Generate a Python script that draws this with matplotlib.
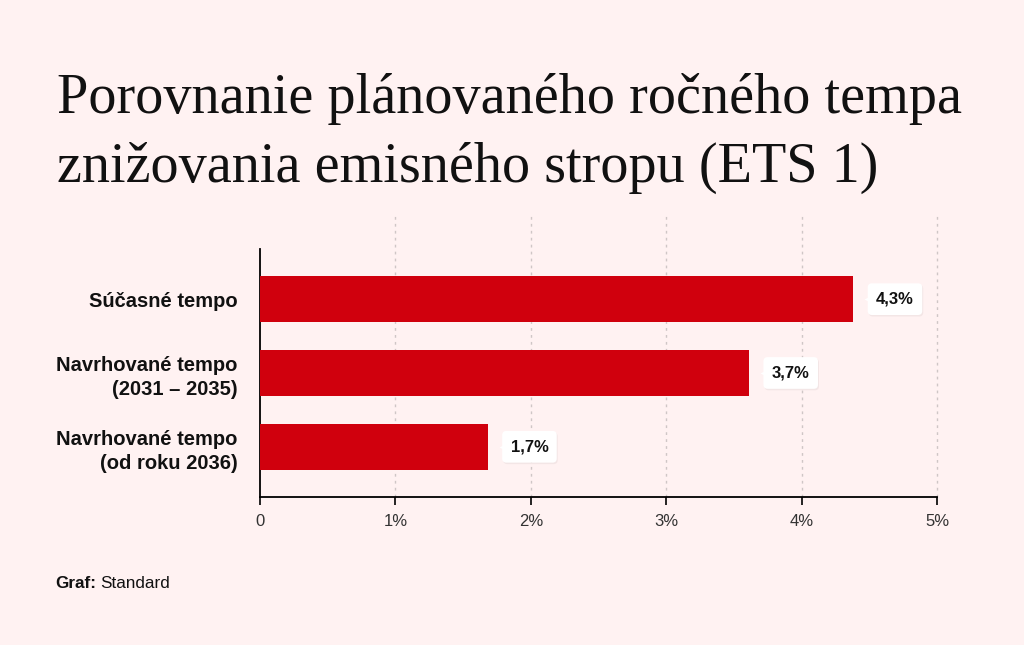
import matplotlib.pyplot as plt
from matplotlib import transforms

# data
categories = ["Súčasné tempo", "Navrhované tempo\n(2031 – 2035)", "Navrhované tempo\n(od roku 2036)"]
values = [4.38, 3.61, 1.68]
value_labels = ["4,3%", "3,7%", "1,7%"]
ticks = [0, 1, 2, 3, 4, 5]
tick_labels = ["0", "1%", "2%", "3%", "4%", "5%"]
title_lines = ["Porovnanie plánovaného ročného tempa", "znižovania emisného stropu (ETS 1)"]

BG = "#fff2f2"
RED = "#d0000d"
SANS = "Liberation Sans"

fig = plt.figure(figsize=(10.24, 6.45), dpi=100, facecolor=BG)
ax = fig.add_axes([0.254, 0.2295, 0.661, 0.3845])
ax.set_facecolor(BG)

pos = list(range(len(categories)))
ax.barh(pos, values, height=0.63, color=RED, zorder=3)
ax.set_ylim(len(categories) - 0.32, -0.68)
ax.set_xlim(0, 5)

# dotted gridlines, extended above the plot area
for t in ticks[1:]:
    ax.plot([t, t], [0, 1.145], transform=ax.get_xaxis_transform(), clip_on=False,
            color="#cfc6c6", lw=1, ls=(0, (2, 3)), zorder=1)

for s in ["top", "right"]:
    ax.spines[s].set_visible(False)
ax.spines["left"].set_linewidth(1.3)
ax.spines["bottom"].set_linewidth(1.3)
ax.set_xticks(ticks)
ax.set_xticklabels(tick_labels, fontsize=12, color="#333333", fontfamily=SANS)
ax.tick_params(axis="x", length=6, width=1.2, pad=6)
ax.set_yticks(pos)
ax.set_yticklabels(categories, fontsize=14.5, fontweight="bold", fontfamily=SANS,
                   linespacing=1.35, color="#111111")
ax.tick_params(axis="y", length=0, pad=16)
for lbl in ax.get_yticklabels():
    lbl.set_horizontalalignment("right")
    lbl.set_multialignment("right")

# value labels in white callouts
for p, v, txt in zip(pos, values, value_labels):
    base = transforms.offset_copy(ax.transData, fig=fig, x=23, y=0, units="dots")
    shadow = transforms.offset_copy(ax.transData, fig=fig, x=24, y=-1.5, units="dots")
    ax.text(v, p, txt, transform=shadow, ha="left", va="center", fontsize=12,
            fontweight="bold", fontfamily=SANS, color=(0, 0, 0, 0), zorder=4,
            bbox=dict(boxstyle="round,pad=0.5,rounding_size=0.25", fc="#ecdede",
                      ec="none", alpha=0.6))
    ax.text(v, p, txt, transform=base, ha="left", va="center", fontsize=12,
            fontweight="bold", fontfamily=SANS, color="#111111", zorder=5,
            bbox=dict(boxstyle="round,pad=0.5,rounding_size=0.25", fc="white", ec="none"))
    tip = transforms.offset_copy(ax.transData, fig=fig, x=15, y=0, units="dots")
    ax.plot(v, p, marker="<", ms=6, color="white", mec="none", transform=tip,
            clip_on=False, zorder=6)

for i, line in enumerate(title_lines):
    fig.text(0.0557, 1 - (113 + 69 * i) / 645, line, fontsize=40.5,
             fontfamily="Liberation Serif", color="#111111", ha="left", va="baseline")

fig.text(0.0537, 0.0884, "Graf:", fontsize=12.3, fontweight="bold", fontfamily=SANS,
         color="#111111", va="baseline")
fig.text(0.0977, 0.0884, "Standard", fontsize=12.3, fontfamily=SANS, color="#111111",
         va="baseline")

fig.savefig("out.png", dpi=100, facecolor=BG)
